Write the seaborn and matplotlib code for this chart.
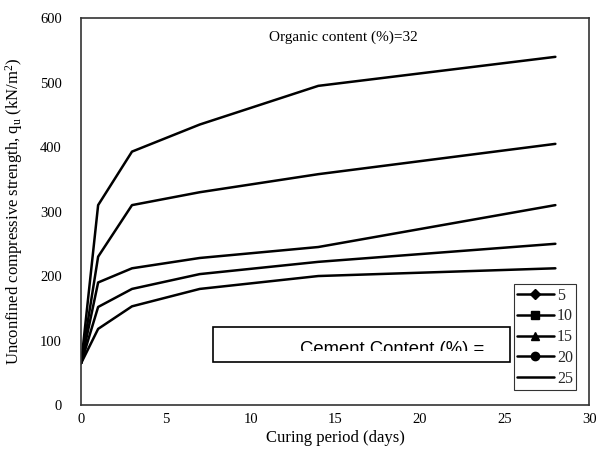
import matplotlib
matplotlib.use("Agg")
import matplotlib.pyplot as plt
import seaborn as sns
import pandas as pd
from matplotlib.lines import Line2D
from matplotlib.patches import Rectangle

sns.set_theme(style="white")
plt.rcParams['font.family'] = ['Liberation Serif', 'DejaVu Serif']
plt.rcParams['mathtext.fontset'] = 'custom'
plt.rcParams['mathtext.rm'] = 'Liberation Serif'
plt.rcParams['mathtext.it'] = 'Liberation Serif:italic'

days = [0, 1, 3, 7, 14, 28]
cement_5 = [65, 118, 153, 180, 200, 212]
cement_10 = [65, 152, 180, 203, 222, 250]
cement_15 = [65, 190, 212, 228, 245, 310]
cement_20 = [65, 230, 310, 330, 358, 405]
cement_25 = [65, 310, 393, 435, 495, 540]
cement_labels = ["5", "10", "15", "20", "25"]
markers = ["D", "s", "^", "o", ""]

series = [cement_5, cement_10, cement_15, cement_20, cement_25]
rows = []
for lab, vals in zip(cement_labels, series):
    for d, v in zip(days, vals):
        rows.append({"days": d, "qu": v, "cement": lab})
df = pd.DataFrame(rows)

fig = plt.figure(figsize=(5.97, 4.54), dpi=100)
ax = fig.add_axes([0.136, 0.108, 0.851, 0.852])

sns.lineplot(data=df, x="days", y="qu", units="cement", estimator=None,
             color="black", linewidth=1.8, ax=ax, legend=False)

ax.set_xlim(0, 30)
ax.set_ylim(0, 600)
ax.set_xticks([0, 5, 10, 15, 20, 25, 30])
ax.set_yticks([0, 100, 200, 300, 400, 500, 600])
ax.tick_params(axis='both', length=0, labelsize=10.5, colors='black')
ax.tick_params(axis='y', pad=14)
ax.tick_params(axis='x', pad=6)
for s in ax.spines.values():
    s.set_color('#333333')
    s.set_linewidth(1.2)

ax.set_xlabel("Curing period (days)", fontsize=12, color='black', labelpad=3)
ax.set_ylabel(r"Unconfined compressive strength, q$_\mathrm{u}$ (kN/m$^\mathrm{2}$)",
              fontsize=12, color='black', labelpad=11)

ax.text(15.5, 570, "Organic content (%)=32", fontsize=11, ha='center', va='center',
        color='black')

# text box
box = Rectangle((7.8, 67), 17.5, 54, transform=ax.transData, fill=False,
                edgecolor='black', linewidth=1.2, zorder=3)
ax.add_patch(box)
clip = Rectangle((7.8, 84), 17.5, 37, transform=ax.transData, fill=False,
                 edgecolor='none')
ax.add_patch(clip)
t = ax.text(12.9, 79, "Cement Content (%) =", fontsize=13.3,
            family=['Liberation Sans', 'DejaVu Sans'], ha='left', va='baseline',
            color='black', clip_on=True)
t.set_clip_path(clip)
t.set_clip_on(True)

handles = [Line2D([0], [0], color='black', linewidth=1.8, marker=m,
                  markersize=6 if m != "D" else 5, markerfacecolor='black',
                  markeredgecolor='black') for m in markers]
leg = ax.legend(handles, cement_labels, loc='lower right',
                bbox_to_anchor=(0.974, 0.039), fontsize=11.5, frameon=True,
                fancybox=False, edgecolor='black', handlelength=2.3,
                handletextpad=0.2, borderpad=0.2, labelspacing=0.3,
                borderaxespad=0)
leg.get_frame().set_linewidth(0.8)

fig.savefig("out.png", dpi=100)
